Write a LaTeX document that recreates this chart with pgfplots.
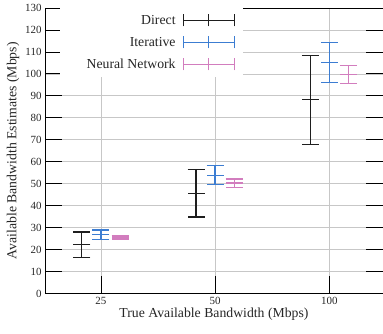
\documentclass[border=0pt]{standalone}
\usepackage{fontspec}
\setmainfont{Liberation Serif}
\usepackage{pgfplots}
\pgfplotsset{compat=1.18}
\definecolor{cdirect}{RGB}{30,30,30}
\definecolor{citer}{RGB}{60,125,210}
\definecolor{cnn}{RGB}{210,125,190}
\begin{document}
\begin{tikzpicture}
\begin{axis}[
  set layers=standard,
  scale only axis,
  width=338bp, height=285.5bp,
  xmin=-0.49, xmax=2.47,
  ymin=0, ymax=130,
  xtick={0,1,2}, xticklabels={25,50,100},
  ytick={0,10,...,130},
  xtick pos=lower, ytick pos=both,
  tick align=inside,
  major tick length=17bp,
  tick style={black, line width=0.8bp},
  axis line style={black, line width=0.9bp},
  xmajorgrids, ymajorgrids,
  grid style={black!22, line width=0.7bp},
  /pgf/number format/assume math mode=true,
  ticklabel style={font=\fontsize{11}{13}\selectfont, text=black!85},
  label style={font=\fontsize{13.8}{16}\selectfont, text=black!85},
  xlabel={True Available Bandwidth (Mbps)},
  ylabel={Available Bandwidth Estimates (Mbps)},
  xlabel style={yshift=3bp},
  ylabel style={yshift=-1bp},
  legend style={at={(0.586,1)}, anchor=north east, fill=white, draw=none,
    font=\fontsize{13.8}{16}\selectfont, text=black!85,
    legend cell align=right, row sep=7.2bp, inner xsep=8bp, inner ysep=5bp},
  legend plot pos=right,
  legend image code/.code={
    \draw[#1] (0bp,0bp) -- (51bp,0bp);
    \draw[#1] (0bp,-6bp) -- (0bp,6bp);
    \draw[#1] (25.5bp,-6bp) -- (25.5bp,6bp);
    \draw[#1] (51bp,-6bp) -- (51bp,6bp);
  },
]
\addplot[cdirect, line width=1.2bp, only marks, mark=-, mark size=8.5bp,
  mark options={line width=1.2bp},
  error bars/.cd, y dir=both, y explicit,
  error mark options={rotate=90, mark size=8.5bp, line width=1.2bp, cdirect},
  error bar style={line width=1.2bp, cdirect}]
  coordinates {
  (-0.167,22.3) += (0,5.7) -= (0,5.9)
  (0.833,45.7) += (0,10.8) -= (0,10.9)
  (1.833,88.2) += (0,20.3) -= (0,20.5)
};
\addlegendentry{Direct\hspace*{5bp}}
\addplot[citer, line width=1.3bp, only marks, mark=-, mark size=8.5bp,
  mark options={line width=1.3bp},
  error bars/.cd, y dir=both, y explicit,
  error mark options={rotate=90, mark size=8.5bp, line width=1.3bp, citer},
  error bar style={line width=1.3bp, citer}]
  coordinates {
  (0,27.0) += (0,1.9) -= (0,2.5)
  (1,53.8) += (0,4.5) -= (0,4.1)
  (2,105.1) += (0,9.3) -= (0,8.9)
};
\addlegendentry{Iterative\hspace*{5bp}}
\addplot[cnn, line width=1.2bp, only marks, mark=-, mark size=8.5bp,
  mark options={line width=1.2bp},
  error bars/.cd, y dir=both, y explicit,
  error mark options={rotate=90, mark size=8.5bp, line width=1.2bp, cnn},
  error bar style={line width=1.2bp, cnn}]
  coordinates {
  (0.167,25.7) += (0,0.8) -= (0,0.9)
  (1.167,50.3) += (0,1.8) -= (0,2.0)
  (2.167,99.7) += (0,4.2) -= (0,4.2)
};
\addlegendentry{\hspace*{17bp}Neural Network\hspace*{5bp}}
\end{axis}
\pgfresetboundingbox
\path[use as bounding box] ([shift={(-45bp,-40bp)}]current axis.south west) rectangle ([shift={(0bp,8bp)}]current axis.north east);
\end{tikzpicture}
\end{document}
